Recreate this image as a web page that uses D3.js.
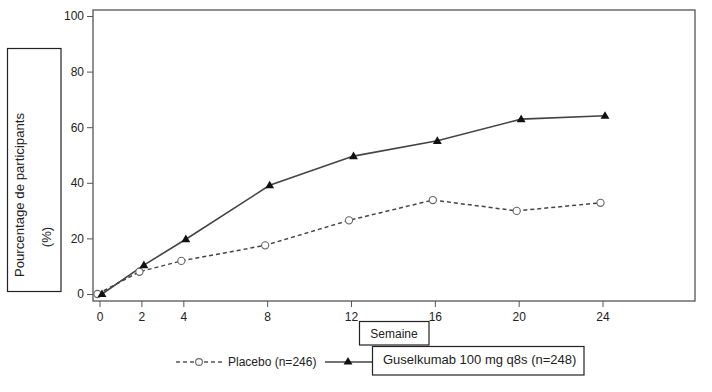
<!DOCTYPE html>
<html><head><meta charset="utf-8">
<script src="https://cdn.jsdelivr.net/npm/d3@7"></script>
<style>body{margin:0;background:#fff}svg{display:block;font-family:"Liberation Sans",Arial,sans-serif}</style>
</head><body><svg id="c" width="712" height="392"></svg>
<script>
const weeks = [0, 2, 4, 8, 12, 16, 20, 24];
const placebo = [0, 8.0, 11.9, 17.5, 26.5, 33.8, 29.9, 32.8];
const guselkumab = [0, 10.4, 19.7, 39.1, 49.6, 55.1, 62.9, 64.1];
const xTicks = [0, 2, 4, 8, 12, 16, 20, 24];
const yTicks = [0, 20, 40, 60, 80, 100];
const seriesNames = ["Placebo (n=246)", "Guselkumab 100 mg q8s (n=248)"];

const svg = d3.select("#c");
const x = d3.scaleLinear().domain([0, 24]).range([99.5, 602.5]);
const y = d3.scaleLinear().domain([0, 100]).range([294, 16]);
const frame = {l: 93, t: 10, r: 695, b: 301};
const ink = "#222";

svg.append("rect").attr("x", frame.l).attr("y", frame.t).attr("width", frame.r - frame.l).attr("height", frame.b - frame.t)
  .attr("fill", "none").attr("stroke", "#555").attr("stroke-width", 1.3);

const yAx = svg.append("g").attr("transform", `translate(${frame.l},0)`)
  .call(d3.axisLeft(y).tickValues(yTicks).tickSize(6).tickPadding(3));
yAx.select(".domain").remove();
yAx.selectAll("line").attr("stroke", "#555");
yAx.selectAll("text").attr("font-size", 12).attr("fill", ink).attr("font-family", "Liberation Sans, Arial");

const xAx = svg.append("g").attr("transform", `translate(0,${frame.b})`)
  .call(d3.axisBottom(x).tickValues(xTicks).tickSize(6).tickPadding(5));
xAx.select(".domain").remove();
xAx.selectAll("line").attr("stroke", "#555");
xAx.selectAll("text").attr("font-size", 12).attr("fill", ink).attr("font-family", "Liberation Sans, Arial");

// lines
const pData = weeks.map((w, i) => [w, placebo[i]]);
const gData = weeks.map((w, i) => [w, guselkumab[i]]);
const pOff = -2, gOff = 2.5;
const lineP = d3.line().x(d => x(d[0]) + pOff).y(d => y(d[1]));
const lineG = d3.line().x(d => x(d[0]) + gOff).y(d => y(d[1]));

svg.append("path").attr("d", lineP(pData)).attr("fill", "none").attr("stroke", "#444")
  .attr("stroke-width", 1.5).attr("stroke-dasharray", "4,3");
svg.append("path").attr("d", lineG(gData)).attr("fill", "none").attr("stroke", "#444")
  .attr("stroke-width", 1.6);

const tri = d3.symbol().type(d3.symbolTriangle).size(34);
svg.selectAll(".pc").data(pData).enter().append("circle")
  .attr("cx", d => x(d[0]) + pOff).attr("cy", d => y(d[1])).attr("r", 3.6)
  .attr("fill", "#fff").attr("stroke", "#666").attr("stroke-width", 1.1);
svg.selectAll(".gt").data(gData).enter().append("path")
  .attr("d", tri).attr("transform", d => `translate(${x(d[0]) + gOff},${y(d[1]) + 0.5})`)
  .attr("fill", "#111");

// y label box
svg.append("rect").attr("x", 7.5).attr("y", 48.5).attr("width", 53.5).attr("height", 243)
  .attr("fill", "none").attr("stroke", "#222").attr("stroke-width", 1.2);
svg.append("text").attr("transform", "translate(24,195) rotate(-90)").attr("text-anchor", "middle")
  .attr("font-size", 13.2).attr("fill", ink).text("Pourcentage de participants");
svg.append("text").attr("transform", "translate(51,237) rotate(-90)").attr("text-anchor", "middle")
  .attr("font-size", 13.2).attr("fill", ink).text("(%)");

// x label box
svg.append("rect").attr("x", 359.5).attr("y", 321.5).attr("width", 69.5).attr("height", 23.5)
  .attr("fill", "#fff").attr("stroke", "#222").attr("stroke-width", 1.2);
svg.append("text").attr("x", 394).attr("y", 338).attr("text-anchor", "middle")
  .attr("font-size", 12).attr("fill", ink).text("Semaine");

// legend
svg.append("line").attr("x1", 176).attr("x2", 222).attr("y1", 362).attr("y2", 362)
  .attr("stroke", "#555").attr("stroke-width", 1.4).attr("stroke-dasharray", "4,3");
svg.append("circle").attr("cx", 199).attr("cy", 362).attr("r", 3.4).attr("fill", "#fff")
  .attr("stroke", "#666").attr("stroke-width", 1.1);
svg.append("text").attr("x", 228).attr("y", 366).attr("font-size", 12).attr("fill", ink).text(seriesNames[0]);

svg.append("line").attr("x1", 325).attr("x2", 372).attr("y1", 362).attr("y2", 362)
  .attr("stroke", "#444").attr("stroke-width", 1.4);
svg.append("path").attr("d", tri).attr("transform", "translate(348,362)").attr("fill", "#111");
svg.append("rect").attr("x", 372.5).attr("y", 346.5).attr("width", 211.5).attr("height", 28.5)
  .attr("fill", "#fff").attr("stroke", "#222").attr("stroke-width", 1.2);
svg.append("text").attr("x", 383).attr("y", 364).attr("font-size", 13).attr("fill", ink).text(seriesNames[1]);
</script></body></html>
